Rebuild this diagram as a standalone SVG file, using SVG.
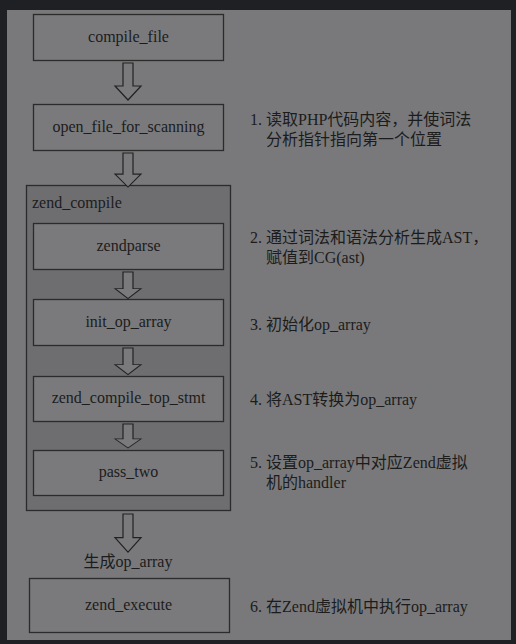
<svg xmlns="http://www.w3.org/2000/svg" width="516" height="644" viewBox="0 0 516 644">
<style>
.box{fill:#7a7a7c;stroke:#2b2b2b;stroke-width:1.3}
.arr{fill:#7a7a7c;stroke:#222;stroke-width:1.2;stroke-linejoin:miter}
text{font-family:"Liberation Serif","Noto Sans CJK SC",serif;font-size:16px;fill:#1c1c1c}
.c{text-anchor:middle}
</style>
<defs>
<path id="ar" d="M-5,0 H5 V23 H13 L0,37 L-13,23 H-5 Z"/>
</defs>
<rect x="0" y="0" width="516" height="644" fill="#1f2023"/>
<rect x="7" y="10" width="504" height="630" fill="#79797b"/>
<g id="zend_compile">
<rect x="26.5" y="185.5" width="204" height="325" fill="#6e6e71" stroke="#2b2b2b" stroke-width="1.3"/>
<text x="32" y="208">zend_compile</text>
</g>
<g id="compile_file"><rect class="box" x="33.5" y="14.5" width="190" height="46"/><text class="c" x="128.5" y="42">compile_file</text></g>
<g id="open_file_for_scanning"><rect class="box" x="33.5" y="104.5" width="190" height="46"/><text class="c" x="128.5" y="132">open_file_for_scanning</text></g>
<g id="zendparse"><rect class="box" x="33.5" y="223.5" width="190" height="46"/><text class="c" x="128.5" y="251">zendparse</text></g>
<g id="init_op_array"><rect class="box" x="33.5" y="299.5" width="190" height="46"/><text class="c" x="128.5" y="327">init_op_array</text></g>
<g id="zend_compile_top_stmt"><rect class="box" x="33.5" y="376.5" width="190" height="45"/><text class="c" x="128.5" y="403">zend_compile_top_stmt</text></g>
<g id="pass_two"><rect class="box" x="33.5" y="450.5" width="190" height="45"/><text class="c" x="128.5" y="477">pass_two</text></g>
<g id="zend_execute"><rect class="box" x="29.5" y="578.5" width="200" height="54"/><text class="c" x="128.5" y="610">zend_execute</text></g>
<g id="connectors">
<use href="#ar" class="arr" transform="translate(128,63)"/>
<use href="#ar" class="arr" transform="translate(128,153) scale(1,0.92)"/>
<use href="#ar" class="arr" transform="translate(128,272) scale(1,0.72)"/>
<use href="#ar" class="arr" transform="translate(128,348) scale(1,0.72)"/>
<use href="#ar" class="arr" transform="translate(128,424) scale(1,0.65)"/>
<use href="#ar" class="arr" transform="translate(128,514) scale(1,1.03)"/>
<text class="c" x="128" y="567">生成op_array</text>
</g>
<g id="notes">
<text x="250" y="125">1. 读取PHP代码内容，并使词法</text>
<text x="266" y="145">分析指针指向第一个位置</text>
<text x="250" y="243">2. 通过词法和语法分析生成AST，</text>
<text x="266" y="263">赋值到CG(ast)</text>
<text x="250" y="330">3. 初始化op_array</text>
<text x="250" y="405">4. 将AST转换为op_array</text>
<text x="250" y="468">5. 设置op_array中对应Zend虚拟</text>
<text x="266" y="488">机的handler</text>
<text x="250" y="612">6. 在Zend虚拟机中执行op_array</text>
</g>
</svg>
